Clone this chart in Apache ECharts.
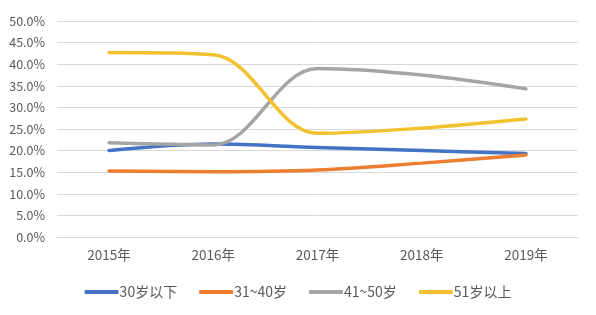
<!DOCTYPE html>
<html><head><meta charset="utf-8">
<script src="https://cdn.jsdelivr.net/npm/echarts@6/dist/echarts.min.js"></script>
<style>html,body{margin:0;padding:0;background:#fff}#c{width:596px;height:315px}</style>
</head><body><div id="c"></div>
<script>
const categories = ['2015年','2016年','2017年','2018年','2019年'];
const seriesNames = ['30岁以下','31~40岁','41~50岁','51岁以上'];
const s30below = [20.0, 21.5, 20.7, 20.0, 19.3];
const s31to40 = [15.3, 15.1, 15.5, 17.1, 19.0];
const s41to50 = [21.8, 21.3, 39.0, 37.5, 34.3];
const s51above = [42.7, 42.2, 24.0, 25.2, 27.3];
const colors = ['#4472C4','#ED7D31','#A5A5A5','#F2C12E'];
const allData = [s30below, s31to40, s41to50, s51above];
const font = '"Noto Sans CJK SC", "Noto Sans", sans-serif';
const chart = echarts.init(document.getElementById('c'));
chart.setOption({
  animation: false,
  color: colors,
  grid: {left: 57, right: 18, top: 21, bottom: 78},
  legend: {
    bottom: 11, left: 'center', itemWidth: 34, itemHeight: 4, itemGap: 22,
    icon: 'roundRect',
    textStyle: {color: '#595959', fontSize: 14, fontFamily: font, padding: [0,0,0,-4]},
    data: seriesNames
  },
  xAxis: {
    type: 'category', data: categories, boundaryGap: true,
    axisLine: {show: true, lineStyle: {color: '#D9D9D9'}},
    axisTick: {show: false},
    axisLabel: {color: '#595959', fontSize: 13.5, fontFamily: font, margin: 11}
  },
  yAxis: {
    type: 'value', min: 0, max: 50, interval: 5,
    axisLine: {show: false}, axisTick: {show: false},
    axisLabel: {color: '#595959', fontSize: 12.5, fontFamily: font, margin: 12,
      formatter: v => v.toFixed(1) + '%'},
    splitLine: {lineStyle: {color: '#D9D9D9'}}
  },
  series: seriesNames.map((n, i) => ({
    name: n, type: 'line', data: allData[i], smooth: 0.35,
    symbol: 'none', lineStyle: {width: 3.5, cap: 'round'}
  }))
});
</script></body></html>
